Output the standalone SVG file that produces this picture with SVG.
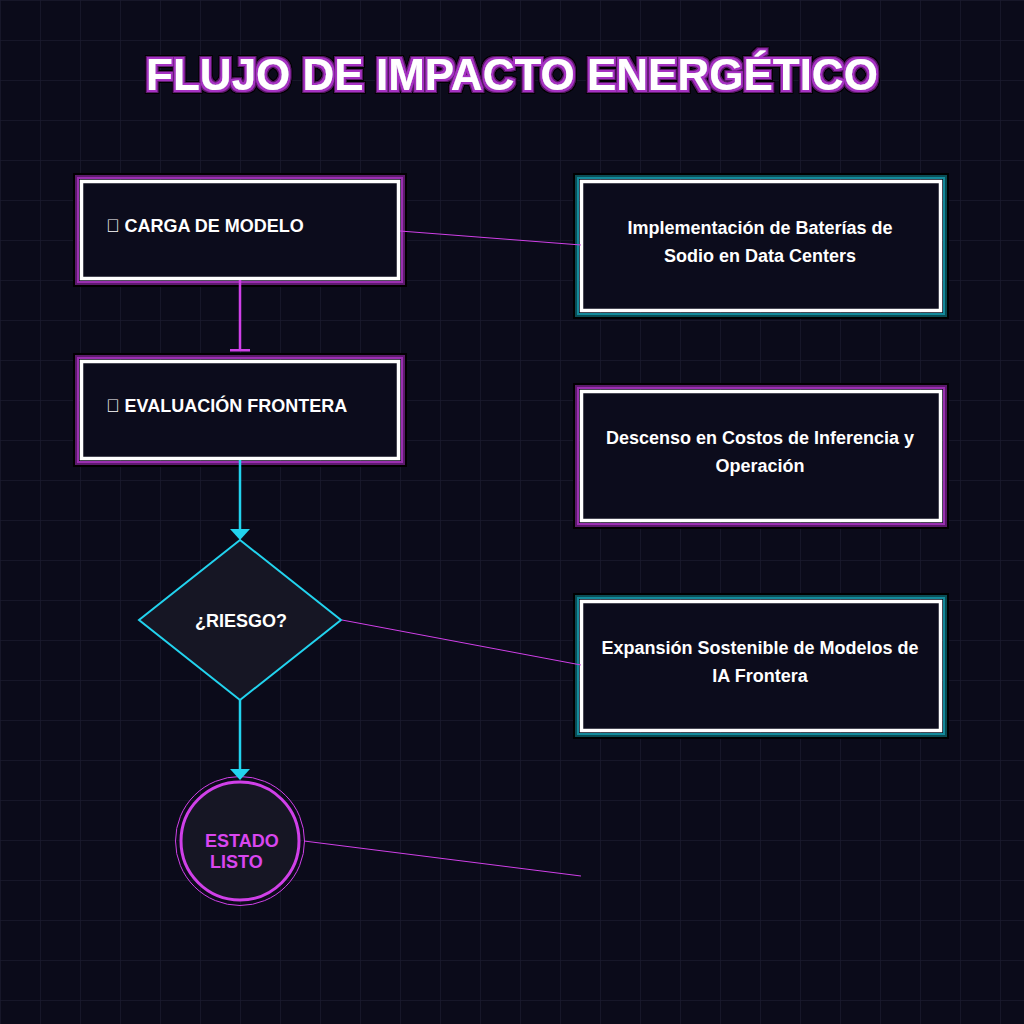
<svg xmlns="http://www.w3.org/2000/svg" width="1024" height="1024" viewBox="0 0 1024 1024">
<defs>
<pattern id="grid" width="40" height="40" patternUnits="userSpaceOnUse">
<path d="M40 0H0V40" fill="none" stroke="#1a1a2e" stroke-width="1.5"/>
</pattern>
<filter id="titleGlow" x="-5%" y="-30%" width="110%" height="160%">
<feMorphology in="SourceAlpha" operator="dilate" radius="1.5" result="d1"/>
<feMorphology in="SourceAlpha" operator="dilate" radius="3" result="d2"/>
<feMorphology in="SourceAlpha" operator="dilate" radius="4" result="d3"/>
<feFlood flood-color="#a632c2"/><feComposite in2="d1" operator="in" result="c1"/>
<feFlood flood-color="#5c1a6c"/><feComposite in2="d2" operator="in" result="c2"/>
<feFlood flood-color="#000000"/><feComposite in2="d3" operator="in" result="c3"/>
<feMerge><feMergeNode in="c3"/><feMergeNode in="c2"/><feMergeNode in="c1"/><feMergeNode in="SourceGraphic"/></feMerge>
</filter>
</defs>
<style>
.lbl{font-family:"Liberation Sans",Arial,sans-serif;font-weight:bold;font-size:18px;fill:#ffffff}
.ctr{text-anchor:middle}
.bk{fill:none;stroke:#000;stroke-width:2}
.pd{fill:none;stroke:#5c1a6c;stroke-width:2}
.pl{fill:none;stroke:#9a2fb0;stroke-width:2}
.td{fill:none;stroke:#0a4d55;stroke-width:2}
.tl{fill:none;stroke:#138a9a;stroke-width:2}
.wh{fill:#0c0c1c;stroke:#ffffff;stroke-width:3.5}
.thin{fill:none;stroke:#d040e8;stroke-width:1}
</style>
<rect width="1024" height="1024" fill="#0b0b1a"/>
<rect width="1024" height="1024" fill="url(#grid)"/>

<text x="512" y="90" text-anchor="middle" font-family="'Liberation Sans',Arial,sans-serif" font-weight="bold" font-size="44" fill="#ffffff" filter="url(#titleGlow)">FLUJO DE IMPACTO ENERGÉTICO</text>

<g id="node-carga">
<rect class="bk" x="74" y="174" width="332" height="112"/>
<rect class="pd" x="76" y="176" width="328" height="108"/>
<rect class="pl" x="78" y="178" width="324" height="104"/>
<rect class="wh" x="81.5" y="181.5" width="317" height="97"/>
<text class="lbl" x="106" y="232">&#xE000; CARGA DE MODELO</text>
</g>

<g id="node-evaluacion">
<rect class="bk" x="74" y="354" width="332" height="112"/>
<rect class="pd" x="76" y="356" width="328" height="108"/>
<rect class="pl" x="78" y="358" width="324" height="104"/>
<rect class="wh" x="81.5" y="361.5" width="317" height="97"/>
<text class="lbl" x="106" y="412">&#xE001; EVALUACIÓN FRONTERA</text>
</g>

<g id="node-riesgo">
<path d="M240 540L341 620L240 700L139 620Z" fill="#161624" stroke="#22d3ee" stroke-width="2"/>
<text class="lbl ctr" x="241" y="627">¿RIESGO?</text>
</g>

<g id="node-estado">
<circle cx="240" cy="841" r="64.5" fill="none" stroke="#d040e8" stroke-width="1"/>
<circle cx="240" cy="841" r="59" fill="#161624" stroke="#d040e8" stroke-width="3"/>
<text class="lbl" style="fill:#d946ef" x="205" y="847">ESTADO</text>
<text class="lbl" style="fill:#d946ef" x="210" y="868">LISTO</text>
</g>

<g id="node-baterias">
<rect class="bk" x="574" y="174" width="374" height="144"/>
<rect class="td" x="576" y="176" width="370" height="140"/>
<rect class="tl" x="578" y="178" width="366" height="136"/>
<rect class="wh" x="581.5" y="181.5" width="359" height="129"/>
<text class="lbl ctr" x="760" y="234">Implementación de Baterías de</text>
<text class="lbl ctr" x="760" y="262">Sodio en Data Centers</text>
</g>

<g id="node-descenso">
<rect class="bk" x="574" y="384" width="374" height="144"/>
<rect class="pd" x="576" y="386" width="370" height="140"/>
<rect class="pl" x="578" y="388" width="366" height="136"/>
<rect class="wh" x="581.5" y="391.5" width="359" height="129"/>
<text class="lbl ctr" x="760" y="444">Descenso en Costos de Inferencia y</text>
<text class="lbl ctr" x="760" y="472">Operación</text>
</g>

<g id="node-expansion">
<rect class="bk" x="574" y="594" width="374" height="144"/>
<rect class="td" x="576" y="596" width="370" height="140"/>
<rect class="tl" x="578" y="598" width="366" height="136"/>
<rect class="wh" x="581.5" y="601.5" width="359" height="129"/>
<text class="lbl ctr" x="760" y="654">Expansión Sostenible de Modelos de</text>
<text class="lbl ctr" x="760" y="682">IA Frontera</text>
</g>

<g id="connectors">
<line x1="240" y1="280" x2="240" y2="350" stroke="#d040e8" stroke-width="2.5"/>
<rect x="230" y="349" width="20" height="2.5" fill="#d040e8"/>
<line x1="240" y1="460" x2="240" y2="531" stroke="#22d3ee" stroke-width="2.5"/>
<path d="M230 529H250L240 540Z" fill="#22d3ee"/>
<line x1="240" y1="700" x2="240" y2="771" stroke="#22d3ee" stroke-width="2.5"/>
<path d="M230 769H250L240 780Z" fill="#22d3ee"/>
<line class="thin" x1="400" y1="231" x2="581" y2="245"/>
<line class="thin" x1="342" y1="620" x2="581" y2="665"/>
<line class="thin" x1="304" y1="841" x2="581" y2="876"/>
</g>
</svg>
